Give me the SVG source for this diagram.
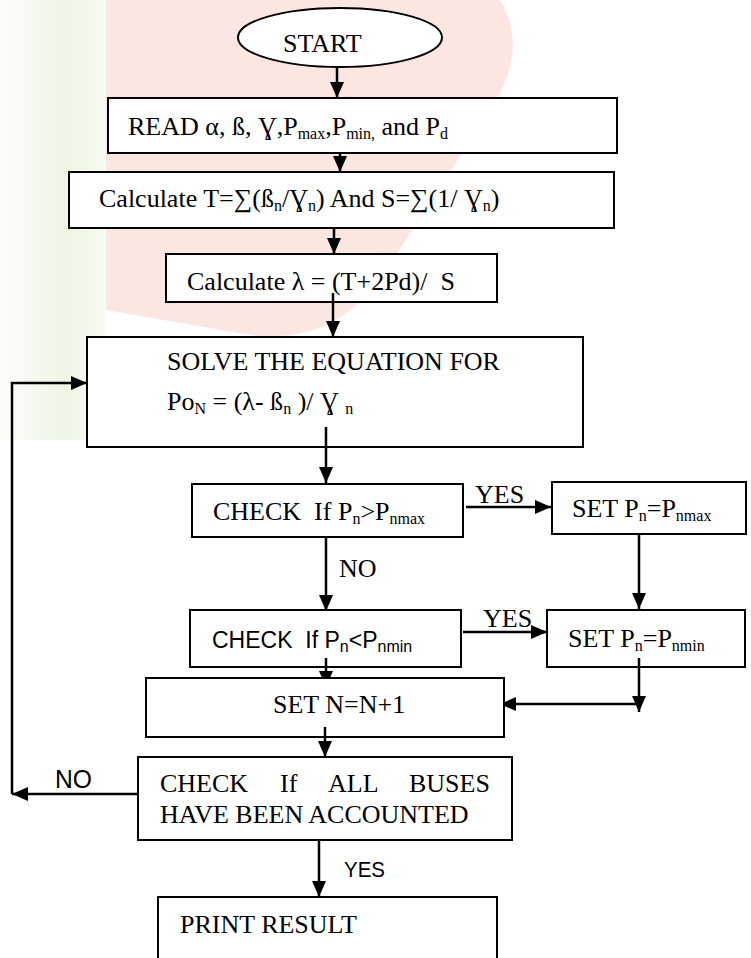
<svg xmlns="http://www.w3.org/2000/svg" width="751" height="958" viewBox="0 0 751 958">
<style>
.box{fill:#fff;stroke:#000;stroke-width:2}
.t{font-family:"Liberation Serif","Times New Roman",serif;font-size:26px;fill:#000}
.s{font-family:"Liberation Sans",Arial,sans-serif;fill:#000}
.sub{font-size:16px}
.c{fill:none;stroke:#000;stroke-width:2.5}
</style>
<defs>
<marker id="ah" markerUnits="userSpaceOnUse" markerWidth="16" markerHeight="14" refX="16" refY="7" orient="auto">
<path d="M0,0 L16,7 L0,14 Z" fill="#000"/>
</marker>
<linearGradient id="gg" x1="0" y1="0" x2="1" y2="0">
<stop offset="0" stop-color="#f4f9ee" stop-opacity="0.3"/>
<stop offset="0.6" stop-color="#edf5e2"/>
<stop offset="1" stop-color="#f2f8ea" stop-opacity="0.6"/>
</linearGradient>
</defs>
<rect width="751" height="958" fill="#fff"/>
<g id="watermark">
<rect x="0" y="0" width="106" height="440" fill="url(#gg)"/>
<path d="M106,0 L500,0 Q530,50 490,110 L380,280 Q330,345 250,335 L106,310 Z" fill="#fce6e1"/>
</g>
<g id="connectors">
<line class="c" x1="337" y1="62" x2="337" y2="98" marker-end="url(#ah)"/>
<line class="c" x1="340" y1="145" x2="340" y2="172" marker-end="url(#ah)"/>
<line class="c" x1="334" y1="218" x2="334" y2="254" marker-end="url(#ah)"/>
<line class="c" x1="333" y1="293" x2="333" y2="337" marker-end="url(#ah)"/>
<line class="c" x1="326" y1="427" x2="326" y2="483" marker-end="url(#ah)"/>
<line class="c" x1="466" y1="507" x2="551" y2="507" marker-end="url(#ah)"/>
<line class="c" x1="639" y1="534" x2="639" y2="609" marker-end="url(#ah)"/>
<line class="c" x1="326" y1="537" x2="326" y2="611" marker-end="url(#ah)"/>
<line class="c" x1="463" y1="632" x2="547" y2="632" marker-end="url(#ah)"/>
<line class="c" x1="639" y1="658" x2="639" y2="712" marker-end="url(#ah)"/>
<line class="c" x1="639" y1="704" x2="500" y2="704" marker-end="url(#ah)"/>
<line class="c" x1="326" y1="658" x2="326" y2="687" marker-end="url(#ah)"/>
<line class="c" x1="325" y1="727" x2="325" y2="757" marker-end="url(#ah)"/>
<line class="c" x1="138" y1="794" x2="12" y2="794" marker-end="url(#ah)"/>
<polyline class="c" points="12,794 12,383 87,383" marker-end="url(#ah)"/>
<line class="c" x1="319" y1="840" x2="319" y2="897" marker-end="url(#ah)"/>
<text class="t" x="475" y="503" font-size="25">YES</text>
<text class="t" x="339" y="577">NO</text>
<text class="t" x="483" y="627" font-size="25">YES</text>
<text class="s" x="55" y="788" font-size="25" textLength="37" lengthAdjust="spacingAndGlyphs">NO</text>
<text class="s" x="344" y="877" font-size="22" textLength="41" lengthAdjust="spacingAndGlyphs">YES</text>
</g>
<g id="start">
<ellipse cx="340" cy="37.5" rx="102" ry="29.5" fill="#fff" stroke="#000" stroke-width="2"/>
<text class="t" x="283" y="52">START</text>
</g>
<g id="read">
<rect class="box" x="108" y="98" width="509" height="55"/>
<text class="t" x="128" y="135">READ α, ß, Ɣ,P<tspan class="sub" dy="4">max</tspan><tspan dy="-4">,P</tspan><tspan class="sub" dy="4">min,</tspan><tspan dy="-4"> and P</tspan><tspan class="sub" dy="4">d</tspan></text>
</g>
<g id="calcT">
<rect class="box" x="69" y="172" width="545" height="56"/>
<text class="t" x="99" y="207">Calculate T=∑(ß<tspan class="sub" dy="4">n</tspan><tspan dy="-4">/Ɣ</tspan><tspan class="sub" dy="4">n</tspan><tspan dy="-4">) And S=∑(1/ Ɣ</tspan><tspan class="sub" dy="4">n</tspan><tspan dy="-4">)</tspan></text>
</g>
<g id="calcL">
<rect class="box" x="166" y="254" width="331" height="48"/>
<text class="t" x="187" y="290" xml:space="preserve">Calculate λ = (T+2Pd)/  S</text>
<line class="c" x1="333" y1="293" x2="333" y2="302"/>
</g>
<g id="solve">
<rect class="box" x="87" y="337" width="496" height="110"/>
<text class="t" x="167" y="370">SOLVE THE EQUATION FOR</text>
<text class="t" x="167" y="410">Po<tspan class="sub" dy="4">N</tspan><tspan dy="-4"> = (λ- ß</tspan><tspan class="sub" dy="4">n</tspan><tspan dy="-4"> )/ Ɣ </tspan><tspan class="sub" dy="4">n</tspan></text>
<line class="c" x1="326" y1="427" x2="326" y2="447"/>
</g>
<g id="check1">
<rect class="box" x="192" y="484" width="271" height="53"/>
<text class="t" x="213" y="520" xml:space="preserve">CHECK  If P<tspan class="sub" dy="4">n</tspan><tspan dy="-4">&gt;P</tspan><tspan class="sub" dy="4">nmax</tspan></text>
</g>
<g id="setmax">
<rect class="box" x="552" y="482" width="194" height="52"/>
<text class="t" x="572" y="517">SET P<tspan class="sub" dy="4">n</tspan><tspan dy="-4">=P</tspan><tspan class="sub" dy="4">nmax</tspan></text>
</g>
<g id="check2">
<rect class="box" x="190" y="610" width="271" height="57"/>
<text class="s" x="212" y="648" font-size="23" xml:space="preserve">CHECK  If P<tspan font-size="16" dy="4">n</tspan><tspan dy="-4">&lt;P</tspan><tspan font-size="16" dy="4">nmin</tspan></text>
<line class="c" x1="326" y1="658" x2="326" y2="667"/>
</g>
<g id="setmin">
<rect class="box" x="547" y="610" width="198" height="57"/>
<text class="t" x="568" y="647">SET P<tspan class="sub" dy="4">n</tspan><tspan dy="-4">=P</tspan><tspan class="sub" dy="4">nmin</tspan></text>
<line class="c" x1="639" y1="658" x2="639" y2="667"/>
</g>
<g id="setN">
<rect class="box" x="146" y="678" width="358" height="59"/>
<text class="t" x="273" y="713">SET N=N+1</text>
<line class="c" x1="325" y1="727" x2="325" y2="737"/>
</g>
<g id="check3">
<rect class="box" x="138" y="757" width="374" height="83"/>
<text class="t" y="792"><tspan x="160">CHECK</tspan><tspan x="280">If</tspan><tspan x="328">ALL</tspan><tspan x="409">BUSES</tspan></text>
<text class="t" x="160" y="823">HAVE BEEN ACCOUNTED</text>
</g>
<g id="print">
<rect class="box" x="158" y="897" width="339" height="70"/>
<text class="t" x="180" y="933">PRINT RESULT</text>
</g>
</svg>
